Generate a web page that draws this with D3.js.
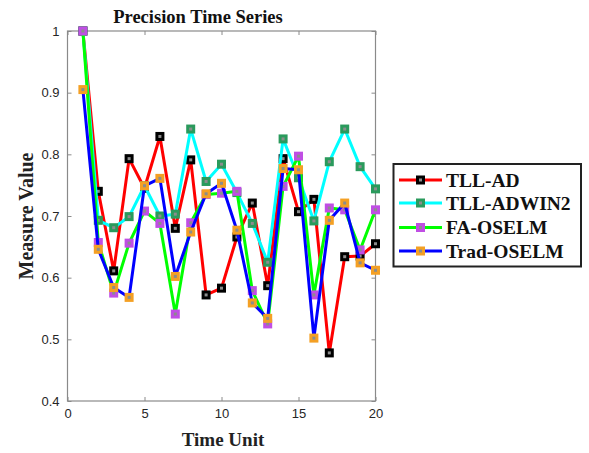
<!DOCTYPE html>
<html><head><meta charset="utf-8">
<script src="https://cdn.jsdelivr.net/npm/d3@7"></script>
<style>body{margin:0;background:#fff}svg{display:block}</style>
</head><body>
<script>
const timeUnits = [1,2,3,4,5,6,7,8,9,10,11,12,13,14,15,16,17,18,19,20];
const tllAD     = [1.0,0.740,0.611,0.793,0.745,0.829,0.680,0.791,0.572,0.583,0.666,0.721,0.587,0.793,0.707,0.727,0.478,0.634,0.635,0.655];
const tllADWIN2 = [1.0,0.693,0.681,0.699,0.749,0.700,0.703,0.841,0.756,0.784,0.738,0.688,0.625,0.825,0.762,0.692,0.788,0.841,0.780,0.744];
const faOSELM   = [1.0,0.657,0.575,0.656,0.708,0.688,0.541,0.689,0.735,0.737,0.740,0.579,0.525,0.748,0.797,0.572,0.713,0.710,0.645,0.710];
const tradOSELM = [0.905,0.646,0.584,0.568,0.749,0.761,0.602,0.674,0.736,0.753,0.677,0.559,0.534,0.777,0.775,0.502,0.693,0.721,0.624,0.612];
const seriesNames = ["TLL-AD","TLL-ADWIN2","FA-OSELM","Trad-OSELM"];
const xTicks = [0,5,10,15,20];
const yTicks = [0.4,0.5,0.6,0.7,0.8,0.9,1];

const seriesData = [tllAD, tllADWIN2, faOSELM, tradOSELM];
const lineColors = ["#ff0000","#00ffff","#00ff00","#0000ff"];
const markColors = ["#000000","#2a9a5c","#c04ee4","#f4a024"];

const W=589,H=453;
const svg=d3.select("body").append("svg").attr("width",W).attr("height",H);
const x=d3.scaleLinear().domain([0,20]).range([67.5,375.5]);
const y=d3.scaleLinear().domain([0.4,1]).range([401,31]);
const axisCol="#8a8a8a", textCol="#262626";

svg.append("rect").attr("x",x(0)).attr("y",y(1)).attr("width",x(20)-x(0)).attr("height",y(0.4)-y(1))
  .attr("fill","#fff").attr("stroke",axisCol).attr("stroke-width",1.2);

function styleAxis(g){ g.select(".domain").remove(); g.selectAll(".tick line").attr("stroke",axisCol);
  g.selectAll(".tick text").attr("fill",textCol).style("font-family","'Liberation Sans',Arial,sans-serif").style("font-size","13px"); }

svg.append("g").attr("transform",`translate(0,${y(0.4)})`)
  .call(d3.axisBottom(x).tickValues(xTicks).tickSizeInner(-4).tickSizeOuter(0).tickPadding(8).tickFormat(d3.format("d")))
  .call(styleAxis);
svg.append("g").attr("transform",`translate(0,${y(1)})`)
  .call(d3.axisTop(x).tickValues(xTicks).tickSizeInner(-4).tickSizeOuter(0).tickFormat(""))
  .call(styleAxis);
svg.append("g").attr("transform",`translate(${x(0)},0)`)
  .call(d3.axisLeft(y).tickValues(yTicks).tickSizeInner(-4).tickSizeOuter(0).tickPadding(8).tickFormat(d=>d===1?"1":d3.format(".1f")(d)))
  .call(styleAxis);
svg.append("g").attr("transform",`translate(${x(20)},0)`)
  .call(d3.axisRight(y).tickValues(yTicks).tickSizeInner(-4).tickSizeOuter(0).tickFormat(""))
  .call(styleAxis);

const line=d3.line().x((d,i)=>x(timeUnits[i])).y(d=>y(d));
function marker(g,cx,cy,c){
  g.append("rect").attr("x",cx-4.5).attr("y",cy-4.5).attr("width",9).attr("height",9).attr("fill",c);
  g.append("rect").attr("x",cx-1.5).attr("y",cy-1.5).attr("width",3).attr("height",3).attr("fill","#8c8c8c");
}
seriesData.forEach((s,k)=>{
  const g=svg.append("g");
  g.append("path").datum(s).attr("d",line).attr("fill","none").attr("stroke",lineColors[k]).attr("stroke-width",3).attr("stroke-linejoin","round");
  s.forEach((v,i)=>marker(g,x(timeUnits[i]),y(v),markColors[k]));
});

const serif="'Liberation Serif','Times New Roman',serif";
svg.append("text").attr("x",198).attr("y",23).attr("text-anchor","middle").style("font-family",serif)
  .style("font-weight","bold").style("font-size","18.5px").attr("fill","#111").text("Precision Time Series");
svg.append("text").attr("x",223).attr("y",446).attr("text-anchor","middle").style("font-family",serif)
  .style("font-weight","bold").style("font-size","19px").attr("fill","#222").text("Time Unit");
svg.append("text").attr("transform","translate(33,216) rotate(-90)").attr("text-anchor","middle").style("font-family",serif)
  .style("font-weight","bold").style("font-size","20px").attr("fill","#222").text("Measure Value");

const lg=svg.append("g");
lg.append("rect").attr("x",393.5).attr("y",164).attr("width",187.5).attr("height",102.5).attr("fill","#fff").attr("stroke","#222").attr("stroke-width",2);
const ly=[180,203,227.5,251];
seriesNames.forEach((n,k)=>{
  lg.append("line").attr("x1",399).attr("x2",442).attr("y1",ly[k]).attr("y2",ly[k]).attr("stroke",lineColors[k]).attr("stroke-width",3);
  marker(lg,420.5,ly[k],markColors[k]);
  lg.append("text").attr("x",446).attr("y",ly[k]+6.5).style("font-family",serif).style("font-weight","bold").style("font-size","19.5px").attr("fill","#111").text(n);
});
</script>
</body></html>
